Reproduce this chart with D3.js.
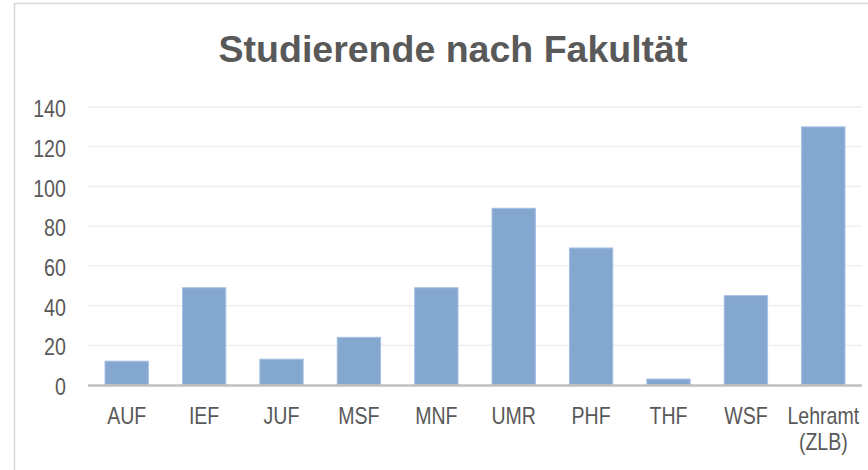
<!DOCTYPE html>
<html><head><meta charset="utf-8">
<script src="https://cdn.jsdelivr.net/npm/d3@7"></script>
<style>
html,body{margin:0;padding:0;background:#fff;}
svg{display:block;}
</style></head>
<body>
<svg id="chart" width="868" height="470"></svg>
<script>
const title = "Studierende nach Fakultät";
const categories = ["AUF","IEF","JUF","MSF","MNF","UMR","PHF","THF","WSF","Lehramt\n(ZLB)"];
const values = [12,49,13,24,49,89,69,3,45,130];
const yTicks = [0,20,40,60,80,100,120,140];

const svg = d3.select("#chart");
const W = 868, H = 470;
const margin = {left:88, right:6, top:107, bottom:85};
const font = "'Liberation Sans',Arial,sans-serif";
const narrow = 0.82;

// chart border
svg.append("rect").attr("x",14.5).attr("y",3.5).attr("width",W).attr("height",H)
  .attr("fill","#fff").attr("stroke","#d9d9d9").attr("stroke-width",1.5);

const x = d3.scaleBand().domain(categories).range([margin.left, W-margin.right]).paddingInner(0.44).paddingOuter(0.22);
const y = d3.scaleLinear().domain([0,140]).range([H-margin.bottom, margin.top]);

// gridlines
svg.append("g").selectAll("line").data(yTicks.filter(d=>d>0)).join("line")
  .attr("x1",margin.left).attr("x2",W-margin.right)
  .attr("y1",d=>y(d)).attr("y2",d=>y(d))
  .attr("stroke","#ececec").attr("stroke-width",1.3);

// y axis labels
const yAxis = d3.axisLeft(y).tickValues(yTicks).tickSize(0).tickPadding(22);
const gy = svg.append("g").attr("transform",`translate(${margin.left},0)`).call(yAxis);
gy.select(".domain").remove();
gy.selectAll(".tick text")
  .attr("x",0).attr("dy","0.4em")
  .attr("transform",`translate(-22,0) scale(${narrow},1)`)
  .attr("font-family",font).attr("font-size",24).attr("fill","#595959");

// bars
svg.append("g").selectAll("rect").data(values).join("rect")
  .attr("x",(d,i)=>x(categories[i]))
  .attr("width",x.bandwidth())
  .attr("y",d=>y(d))
  .attr("height",d=>y(0)-y(d))
  .attr("fill","#84a7d0")
  .attr("stroke","#a7c1e2").attr("stroke-width",1);

// baseline
svg.append("line").attr("x1",margin.left).attr("x2",W-margin.right)
  .attr("y1",y(0)+0.5).attr("y2",y(0)+0.5).attr("stroke","#bfbfbf").attr("stroke-width",2.5);

// x labels
const xAxis = d3.axisBottom(x).tickSize(0).tickPadding(0).tickFormat(()=> "");
const gx = svg.append("g").attr("transform",`translate(0,${y(0)})`).call(xAxis);
gx.select(".domain").remove();
gx.selectAll(".tick text").each(function(d){
  const t = d3.select(this);
  t.text(null).attr("y",null).attr("dy",null);
  d.split("\n").forEach((line,k)=>{
    t.append("tspan").attr("x",0).attr("y",39+k*26).text(line);
  });
}).attr("transform",`scale(0.85,1)`)
  .attr("font-family",font).attr("font-size",23).attr("fill","#595959");

// title
svg.append("text").attr("x",453).attr("y",62).attr("text-anchor","middle")
  .attr("font-family",font).attr("font-weight","bold").attr("font-size",37.5)
  .attr("fill","#595959").text(title);
</script>
</body></html>
